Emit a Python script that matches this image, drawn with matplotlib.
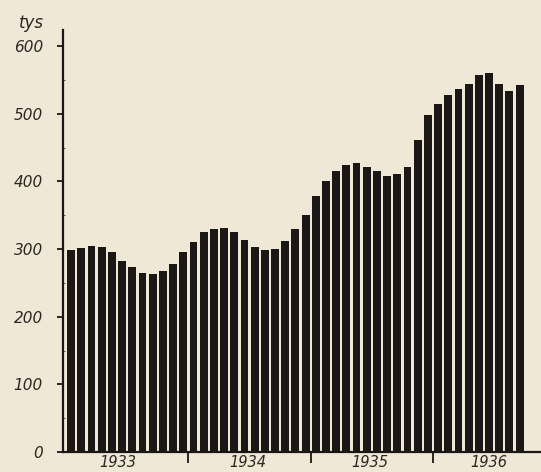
# Liczba bezrobotnych 1933-1936 (tys.), słupki miesięczne

import numpy as np
import matplotlib
matplotlib.use('Agg')
import matplotlib.pyplot as plt
from matplotlib.ticker import MultipleLocator
from matplotlib.transforms import blended_transform_factory

# wartości miesięczne w tysiącach
val_1933 = [298, 302, 305, 303, 296, 282, 273, 265, 263, 267, 278, 296]
val_1934 = [311, 325, 330, 331, 326, 314, 303, 299, 300, 312, 330, 350]
val_1935 = [379, 401, 415, 424, 428, 422, 415, 408, 411, 422, 462, 498]
val_1936 = [515, 528, 537, 544, 557, 560, 544, 534, 542]

years = ['1933', '1934', '1935', '1936']
y_ticks = [0, 100, 200, 300, 400, 500, 600]

values = np.array(val_1933 + val_1934 + val_1935 + val_1936)
x = np.arange(len(values))

paper = '#f0e8d6'
ink = '#1a1714'
text_c = '#2b2721'

fig = plt.figure(figsize=(5.41, 4.72), dpi=100, facecolor=paper)
ax = fig.add_axes([0.1165, 0.0424, 0.8835, 0.894])
ax.set_facecolor(paper)

ax.bar(x, values, width=0.77, color=ink, edgecolor='none')

ax.set_xlim(-0.8, 46.1)
ax.set_ylim(0, 624)

for side in ['top', 'right']:
    ax.spines[side].set_visible(False)
for side in ['left', 'bottom']:
    ax.spines[side].set_color(ink)
    ax.spines[side].set_linewidth(1.6)

# oś Y
ax.set_yticks(y_ticks)
ax.set_yticklabels([str(v) for v in y_ticks], fontstyle='italic',
                   fontsize=11, color=text_c)
ax.yaxis.set_minor_locator(MultipleLocator(50))
ax.tick_params(axis='y', which='major', direction='out', length=4.5,
               width=1.3, color=ink, pad=10)
ax.tick_params(axis='y', which='minor', direction='in', length=1.5,
               width=0.8, color='#6a655c')

# oś X: kreski na granicach lat, podpisy lat pośrodku
ax.set_xticks([11.5, 23.5, 35.5])
ax.set_xticklabels([])
ax.tick_params(axis='x', which='major', direction='out', length=8,
               width=1.3, color=ink)

trans = blended_transform_factory(ax.transData, fig.transFigure)
label_pos = [4.6, 17.3, 29.3, 41.0]
for pos, yr in zip(label_pos, years):
    ax.text(pos, 0.004, yr, transform=trans, ha='center', va='bottom',
            fontstyle='italic', fontsize=10.5, color=text_c)

fig.text(0.058, 0.952, 'tys', ha='center', va='center',
         fontstyle='italic', fontsize=12, color=text_c)

fig.savefig('out.png', dpi=100, facecolor=paper)
